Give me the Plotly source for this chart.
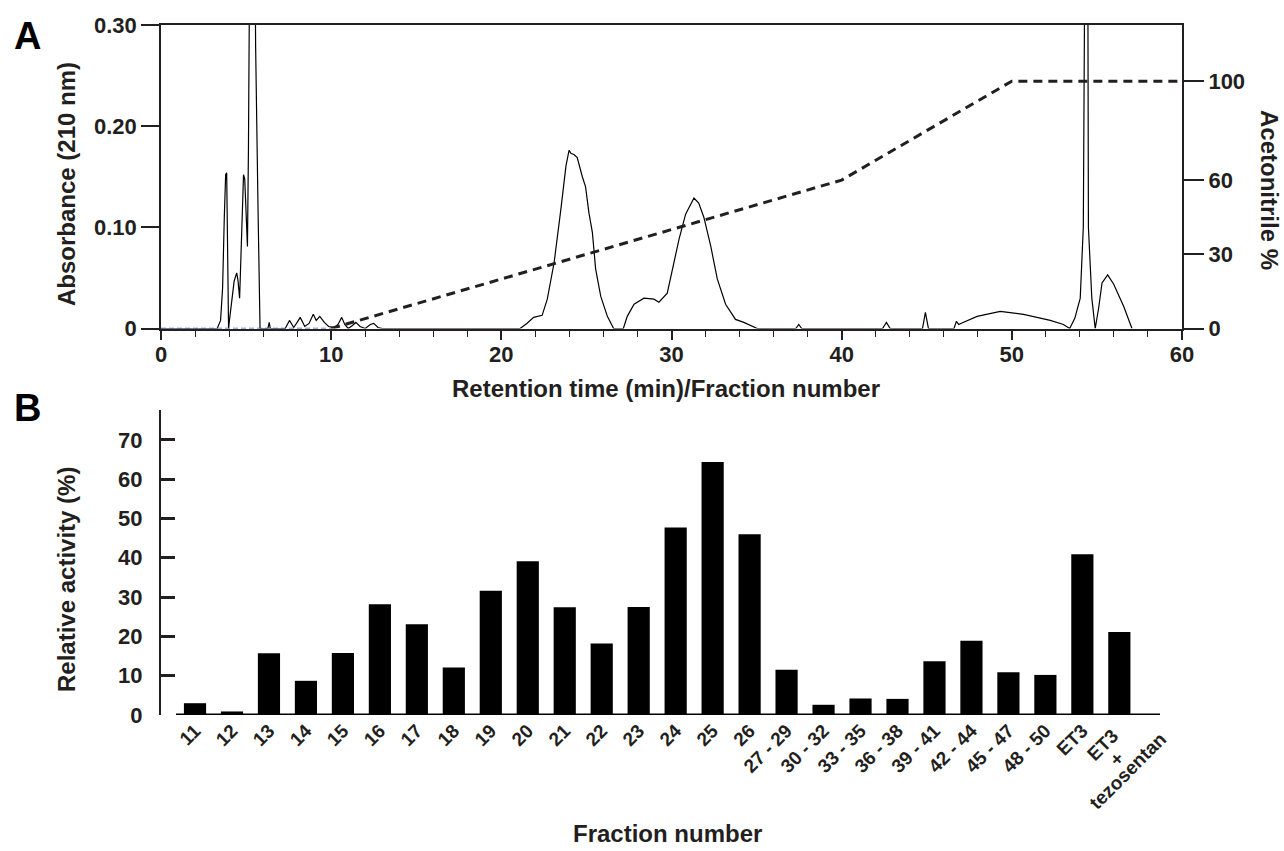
import plotly.graph_objects as go

W, H = 1284, 851

# ---------------- Panel A data ----------------
chrom_time = [0, 3.3, 3.5, 3.62, 3.72, 3.8, 3.86, 3.92, 3.97, 4.05, 4.2, 4.3, 4.45, 4.52, 4.62,
              4.72, 4.85, 4.92, 5.0, 5.08, 5.14, 5.2, 5.35, 5.5, 5.56, 5.7, 5.82, 6.28, 6.36, 6.42,
              7.3, 7.55, 7.8, 8.0, 8.18, 8.45, 8.7, 8.95, 9.12, 9.33, 9.6, 9.85, 10.2, 10.4, 10.62,
              10.8, 11.0, 11.25, 11.45, 11.7, 12.0, 12.3, 12.5, 12.75, 13.0,
              21.1, 21.5, 21.9, 22.4, 22.7, 23.1, 23.5, 23.8, 23.98, 24.1, 24.27, 24.46, 24.76, 24.95,
              25.15, 25.35, 25.54, 25.84, 26.23, 26.6, 27.17, 27.4, 27.8, 28.38, 28.97, 29.26, 29.75,
              30.14, 30.44, 30.83, 31.32, 31.6, 31.9, 32.3, 32.69, 33.18, 33.76, 34.25, 35.04,
              37.3, 37.48, 37.65, 42.4, 42.63, 42.85, 44.75, 44.92, 45.1, 46.6, 46.74, 46.88, 47.0,
              47.96, 49.32, 50.69, 52.26, 53.03, 53.4, 53.7, 54.02, 54.2, 54.3, 54.38, 54.46, 54.5,
              54.7, 54.9, 55.1, 55.3, 55.63, 55.98, 56.57, 57.06]
chrom_abs = [0, 0, 0.008, 0.04, 0.11, 0.152, 0.154, 0.09, 0.0, 0.012, 0.035, 0.047, 0.055, 0.048, 0.030,
             0.09, 0.152, 0.148, 0.11, 0.081, 0.18, 0.45, 0.75, 0.45, 0.28, 0.12, 0.0, 0.0, 0.006, 0.0,
             0.0, 0.008, 0.001, 0.006, 0.011, 0.002, 0.005, 0.014, 0.008, 0.012, 0.006, 0.002, 0.001, 0.004, 0.011,
             0.004, 0.0, 0.003, 0.006, 0.002, 0.0, 0.004, 0.005, 0.001, 0.0,
             0.0, 0.005, 0.011, 0.013, 0.029, 0.065, 0.118, 0.161, 0.176, 0.173, 0.172, 0.169, 0.150, 0.140,
             0.114, 0.095, 0.059, 0.032, 0.012, 0.0, 0.0, 0.012, 0.024, 0.030, 0.029, 0.026, 0.035,
             0.065, 0.088, 0.113, 0.129, 0.124, 0.110, 0.082, 0.049, 0.024, 0.009, 0.006, 0.0,
             0.0, 0.004, 0.0, 0.0, 0.006, 0.0, 0.0, 0.016, 0.0, 0.0, 0.007, 0.004, 0.005,
             0.012, 0.017, 0.014, 0.008, 0.004, 0.0, 0.01, 0.03, 0.10, 0.4, 0.8, 0.4, 0.10,
             0.03, 0.0, 0.02, 0.045, 0.053, 0.044, 0.022, 0.0]

init_time = [0, 10]
init_acn = [0, 0]
grad_time = [10, 40, 50, 60]
grad_acn = [0, 60, 100, 100]

abs_ticks = [0, 0.10, 0.20, 0.30]
abs_ticktext = ["0", "0.10", "0.20", "0.30"]
acn_ticks = [0, 30, 60, 100]
time_ticks = [0, 10, 20, 30, 40, 50, 60]

# ---------------- Panel B data ----------------
fractions = ["11", "12", "13", "14", "15", "16", "17", "18", "19", "20", "21", "22", "23", "24",
             "25", "26", "27 - 29", "30 - 32", "33 - 35", "36 - 38", "39 - 41", "42 - 44",
             "45 - 47", "48 - 50", "ET3", "ET3 + tezosentan"]
fraction_ticktext = fractions[:-1] + [""]
last_label_lines = ["ET3", "+", "tezosentan"]
activity = [3.0, 0.9, 15.7, 8.7, 15.8, 28.2, 23.1, 12.1, 31.6, 39.1, 27.4, 18.2, 27.5, 47.7,
            64.4, 46.0, 11.5, 2.6, 4.2, 4.1, 13.7, 18.9, 10.9, 10.2, 40.9, 21.1]
act_ticks = [0, 10, 20, 30, 40, 50, 60, 70]

INK = "#231f20"
FONT = "Liberation Sans, Arial, Helvetica, sans-serif"


def fx(px):
    return px / W


def fy(py):
    return 1 - py / H


fig = go.Figure()

fig.add_trace(go.Scatter(x=chrom_time, y=chrom_abs, mode="lines",
                         line=dict(color="black", width=1.2), xaxis="x", yaxis="y",
                         showlegend=False, hoverinfo="skip"))
fig.add_trace(go.Scatter(x=init_time, y=init_acn, mode="lines",
                         line=dict(color="#3f63ad", width=1.6, dash="5px,3px"),
                         xaxis="x", yaxis="y2", showlegend=False, hoverinfo="skip"))
fig.add_trace(go.Scatter(x=grad_time, y=grad_acn, mode="lines",
                         line=dict(color=INK, width=3, dash="9px,6px"),
                         xaxis="x", yaxis="y2", showlegend=False, hoverinfo="skip"))

fig.add_trace(go.Bar(x=fractions, y=activity, marker=dict(color="black", line=dict(width=0)),
                     xaxis="x2", yaxis="y3", showlegend=False, hoverinfo="skip"))

tickfont = dict(family=FONT, size=22, color=INK, weight="bold")

fig.update_layout(
    width=W, height=H, autosize=False,
    margin=dict(l=0, r=0, t=0, b=0, autoexpand=False),
    paper_bgcolor="white", plot_bgcolor="white",
    font=dict(family=FONT, size=22, color=INK, weight="bold"),
    bargap=0.4,
    xaxis=dict(domain=[fx(161), fx(1182)], anchor="y", range=[0, 60], automargin=False,
               showline=True, linecolor=INK, linewidth=1.5, mirror=True,
               showgrid=False, zeroline=False,
               tickmode="array", tickvals=time_ticks, ticks="outside", ticklen=10,
               tickwidth=1.5, tickcolor=INK, tickfont=tickfont, ticklabelstandoff=-5,
               minor=dict(dtick=2, ticks="outside", ticklen=7, tickwidth=1.2,
                          tickcolor=INK, showgrid=False)),
    yaxis=dict(domain=[fy(328.5), fy(25)], anchor="x", range=[0, 0.30], automargin=False,
               showline=True, linecolor=INK, linewidth=1.5, mirror=True,
               showgrid=False, zeroline=False,
               tickmode="array", tickvals=abs_ticks, ticktext=abs_ticktext,
               ticks="outside", ticklen=18, tickwidth=1.5, tickcolor=INK, tickfont=tickfont),
    yaxis2=dict(overlaying="y", side="right", anchor="x", range=[0, 122.7], automargin=False,
                showline=False, showgrid=False, zeroline=False,
                tickmode="array", tickvals=acn_ticks, ticks="outside", ticklen=21,
                tickwidth=1.5, tickcolor=INK, tickfont=tickfont),
    xaxis2=dict(domain=[fx(161), fx(1160)], anchor="y3", type="category", automargin=False,
                range=[-0.92, 26.1], showline=False, showgrid=False, zeroline=False,
                ticks="", tickangle=-45, tickmode="array", tickvals=fractions,
                ticktext=fraction_ticktext,
                tickfont=dict(family=FONT, size=19, color=INK, weight="bold")),
    yaxis3=dict(domain=[fy(715), fy(410)], anchor="x2", range=[0, 77.6], automargin=False,
                showline=True, linecolor=INK, linewidth=2, showgrid=False, zeroline=False,
                tickmode="array", tickvals=act_ticks, ticks="inside", ticklen=14,
                tickwidth=2.5, tickcolor=INK, ticklabelstandoff=12, tickfont=tickfont),
)

# x-axis baseline of panel B (starts slightly right of the y axis)
fig.add_shape(type="line", xref="x2 domain", yref="y3", x0=(176 - 161) / (1160 - 161), x1=1,
              y0=0, y1=0, line=dict(color="black", width=3))

titlefont = dict(family=FONT, size=24, color=INK, weight="bold")
labfont = dict(family=FONT, size=19, color=INK, weight="bold")
ann = [
    dict(text="A", x=fx(12), y=fy(36), xanchor="left", yanchor="middle",
         font=dict(family=FONT, size=38, color="black", weight="bold")),
    dict(text="B", x=fx(12), y=fy(408), xanchor="left", yanchor="middle",
         font=dict(family=FONT, size=38, color="black", weight="bold")),
    dict(text="Absorbance (210 nm)", x=fx(66), y=fy(184), textangle=-90,
         xanchor="center", yanchor="middle", font=titlefont),
    dict(text="Acetonitrile %", x=fx(1269), y=fy(190), textangle=90,
         xanchor="center", yanchor="middle", font=titlefont),
    dict(text="Retention time (min)/Fraction number", x=fx(666), y=fy(388),
         xanchor="center", yanchor="middle", font=titlefont),
    dict(text="Relative activity (%)", x=fx(66), y=fy(580), textangle=-90,
         xanchor="center", yanchor="middle", font=titlefont),
    dict(text="Fraction number", x=fx(667), y=fy(833),
         xanchor="center", yanchor="middle", font=titlefont),
]
# multi-line label of the last category, one rotated line at a time
for txt, (cx, cy) in zip(last_label_lines, [(1102, 745), (1116, 759), (1127, 771)]):
    ann.append(dict(text=txt, x=fx(cx), y=fy(cy), textangle=-45,
                    xanchor="center", yanchor="middle", font=labfont))
for a in ann:
    a.update(xref="paper", yref="paper", showarrow=False)
    fig.add_annotation(**a)

fig.write_html("out.html")
